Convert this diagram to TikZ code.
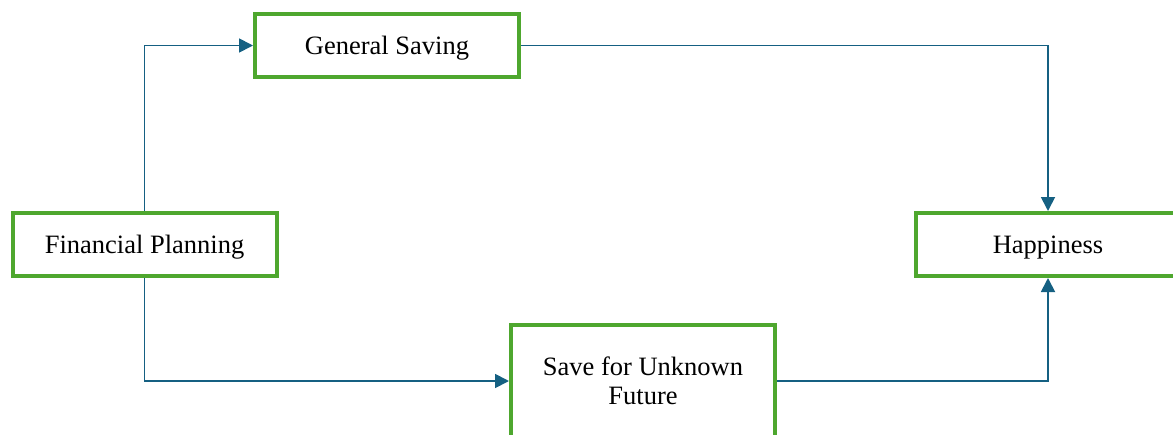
\documentclass[tikz,border=0pt]{standalone}
\usepackage{fontspec}
\setmainfont{Liberation Serif}
\usepackage{tikz}
\usetikzlibrary{shapes,arrows.meta}
\usetikzlibrary{positioning}
\definecolor{boxgreen}{HTML}{4EA72E}
\definecolor{linkblue}{HTML}{156082}
\tikzset{
    stage/.style={
           rectangle,
           draw=boxgreen, line width=2pt,
           fill=white,
           minimum height=31.5pt,
           minimum width=132pt,
           align=center,
           font=\fontsize{13.25}{14.6}\selectfont
           },
    oneline/.style={
           text height=9pt,
           text depth=0pt
           },
    link/.style={
           draw=linkblue, line width=0.9pt
           }
}
\begin{document}
\begin{tikzpicture}[x=0.5pt, y=-0.5pt, >={Triangle[length=7pt,width=7pt]}, on grid]
   \useasboundingbox (0,0) rectangle (1173,434);
   \node[stage, oneline] (plan) at (144.5,244.5) {Financial Planning};
   \node[stage, oneline] (saving) [above right=99.5pt and 121.25pt of plan] {General Saving};
   \node[stage, oneline] (happy) [right=451.75pt of plan] {Happiness};
   \node[stage, minimum height=56pt] (future) [below right=68.25pt and 249.25pt of plan] {Save for Unknown\\Future};
   \draw[link,->] (plan.north) |- (saving.west);
   \draw[link,->] (saving.east) -| (happy.north);
   \draw[link,->] (plan.south) |- (future.west);
   \draw[link,->] (future.east) -| (happy.south);
\end{tikzpicture}
\end{document}
